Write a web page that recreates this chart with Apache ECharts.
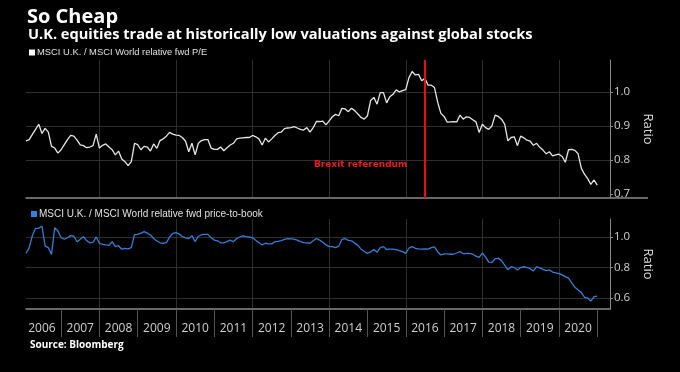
<!DOCTYPE html>
<html><head><meta charset="utf-8">
<script src="https://cdn.jsdelivr.net/npm/echarts@6/dist/echarts.min.js"></script>
<style>html,body{margin:0;padding:0;background:#000}#c{width:680px;height:372px}</style>
</head><body><div id="c"></div>
<script>
// Axis spans Feb 2006 .. May 2021 (monthly); data Feb 2006 .. Jan 2021
const startYear = 2006, startMonth = 2, axisMonths = 184;
const yearLabels = ['2006','2007','2008','2009','2010','2011','2012','2013','2014','2015','2016','2017','2018','2019','2020'];
const peTicks = [0.7, 0.8, 0.9, 1.0];
const peGrid = [0.8, 0.9, 1.0];
const pbTicks = [0.6, 0.8, 1.0];
const brexitMonth = '2016-07';
const peRatio = [
0.856,0.86,0.875,0.89,0.905,0.878,0.893,0.882,0.84,0.835,
0.82,0.83,0.845,0.86,0.872,0.87,0.858,0.844,0.842,0.836,
0.838,0.842,0.876,0.835,0.843,0.847,0.838,0.83,0.815,0.826,
0.803,0.795,0.783,0.795,0.849,0.845,0.83,0.84,0.838,0.826,
0.847,0.834,0.857,0.862,0.87,0.881,0.876,0.873,0.872,0.866,
0.855,0.824,0.849,0.815,0.849,0.857,0.86,0.86,0.835,0.831,
0.831,0.838,0.827,0.836,0.844,0.849,0.862,0.864,0.865,0.866,
0.866,0.872,0.868,0.862,0.844,0.864,0.853,0.862,0.872,0.88,
0.882,0.892,0.894,0.895,0.898,0.894,0.89,0.888,0.895,0.882,
0.895,0.913,0.913,0.914,0.903,0.915,0.927,0.934,0.93,0.952,
0.95,0.942,0.952,0.945,0.935,0.925,0.92,0.93,0.975,0.984,
0.964,0.998,0.998,0.968,0.986,0.993,1.006,1.0,1.004,1.007,
1.042,1.06,1.05,1.052,1.033,1.04,1.02,1.02,1.013,0.97,
0.937,0.928,0.911,0.912,0.913,0.912,0.932,0.92,0.927,0.925,
0.918,0.912,0.881,0.905,0.895,0.89,0.9,0.932,0.928,0.92,
0.905,0.856,0.866,0.868,0.842,0.87,0.865,0.858,0.855,0.843,
0.849,0.837,0.829,0.818,0.824,0.812,0.815,0.817,0.81,0.793,
0.83,0.831,0.828,0.818,0.776,0.758,0.745,0.728,0.741,0.726];
const pbRatio = [
0.893,0.93,1.01,1.057,1.057,1.072,0.94,0.93,0.886,1.061,
1.04,0.995,0.985,0.995,1.009,1.005,0.969,0.985,1.002,0.976,
0.962,0.965,1.0,0.959,0.952,0.948,0.945,0.969,0.937,0.943,
0.92,0.926,0.922,0.93,1.015,1.017,1.025,1.035,1.025,1.013,
0.99,0.974,0.962,0.959,0.963,1.0,1.024,1.028,1.02,1.002,
0.995,0.99,1.009,0.969,1.005,1.015,1.017,1.017,0.995,0.98,
0.975,0.962,0.962,0.97,0.98,0.969,0.99,1.0,1.007,1.003,
1.0,0.995,0.978,0.962,0.948,0.959,0.955,0.955,0.969,0.972,
0.976,0.985,0.99,0.988,0.986,0.98,0.97,0.963,0.962,0.959,
0.975,0.99,0.98,0.965,0.948,0.937,0.937,0.93,0.94,0.985,
0.99,0.978,0.975,0.96,0.945,0.92,0.905,0.893,0.902,0.918,
0.9,0.93,0.937,0.918,0.92,0.92,0.917,0.91,0.904,0.893,
0.928,0.937,0.926,0.922,0.92,0.922,0.92,0.93,0.935,0.902,
0.882,0.89,0.89,0.887,0.887,0.895,0.904,0.89,0.893,0.893,
0.887,0.875,0.866,0.895,0.87,0.835,0.833,0.858,0.86,0.845,
0.815,0.785,0.806,0.8,0.784,0.8,0.805,0.8,0.792,0.778,
0.805,0.797,0.788,0.78,0.784,0.77,0.765,0.76,0.752,0.74,
0.73,0.7,0.67,0.652,0.637,0.605,0.6,0.58,0.609,0.613];

const months = [];
for (let i = 0; i < axisMonths; i++) {
  const m = startMonth - 1 + i;
  months.push((startYear + Math.floor(m / 12)) + '-' + String(m % 12 + 1).padStart(2, '0'));
}
const isJan = v => v.endsWith('-01');
const isEvenJan = v => isJan(v) && (+v.slice(0, 4)) % 2 === 0;
const isMid = v => v.endsWith('-07') && yearLabels.includes(v.slice(0, 4));

const FONT = 'Open Sans';
const gridCol = '#2e2e2e', axisCol = '#8a8a8a', txtCol = '#d0d0d0';
const L = 26, R = 70;

const chart = echarts.init(document.getElementById('c'));
chart.setOption({
  backgroundColor: '#000',
  animation: false,
  textStyle: { fontFamily: FONT },
  title: [
    { text: 'So Cheap', left: 22, top: 2, textStyle: { color: '#fff', fontSize: 20, fontWeight: 'bold', fontFamily: FONT } },
    { text: 'U.K. equities trade at historically low valuations against global stocks', left: 23, top: 22, textStyle: { color: '#fff', fontSize: 14.6, fontWeight: 'bold', fontFamily: FONT } },
    { text: 'Source: Bloomberg', left: 25, top: 335, textStyle: { color: '#fff', fontSize: 10, fontWeight: 'bold', fontFamily: FONT } }
  ],
  legend: [
    { data: ['MSCI U.K. / MSCI World relative fwd P/E'], left: 24, top: 43, icon: 'rect', itemWidth: 6, itemHeight: 6,
      textStyle: { color: '#e0e0e0', fontSize: 9.4, fontFamily: 'Liberation Sans', padding: [0, 0, 0, -3] } },
    { data: ['MSCI U.K. / MSCI World relative fwd price-to-book'], left: 26, top: 204, icon: 'rect', itemWidth: 6, itemHeight: 6,
      textStyle: { color: '#e0e0e0', fontSize: 10, fontFamily: 'Liberation Sans', padding: [0, 0, 0, -3] } }
  ],
  grid: [
    { left: L, right: R, top: 60, height: 138 },
    { left: L, right: R, top: 219, height: 90 }
  ],
  xAxis: [
    { gridIndex: 0, type: 'category', data: months, boundaryGap: false,
      axisLine: { show: true, lineStyle: { color: axisCol, width: 1.5 } },
      axisTick: { show: false }, axisLabel: { show: false },
      splitLine: { show: true, interval: (i, v) => isEvenJan(v), lineStyle: { color: gridCol, width: 1 } } },
    { gridIndex: 1, type: 'category', data: months, boundaryGap: false,
      axisLine: { show: true, lineStyle: { color: axisCol, width: 1.5 } },
      axisTick: { show: true, interval: (i, v) => isJan(v), length: 28, lineStyle: { color: '#555' } },
      axisLabel: { show: true, interval: (i, v) => isMid(v), formatter: v => v.slice(0, 4), color: txtCol, fontSize: 12, margin: 14, fontFamily: FONT },
      splitLine: { show: true, interval: (i, v) => isEvenJan(v), lineStyle: { color: gridCol, width: 1 } } }
  ],
  yAxis: [
    { gridIndex: 0, type: 'value', position: 'right', min: 0.688, max: 1.094,
      axisLine: { show: true, lineStyle: { color: axisCol } },
      axisTick: { show: true, length: 3, customValues: peTicks, lineStyle: { color: axisCol } },
      axisLabel: { customValues: peTicks, formatter: v => v.toFixed(1), color: txtCol, fontSize: 11.5, margin: 4, fontFamily: FONT },
      splitLine: { show: false },
      name: 'Ratio', nameLocation: 'middle', nameRotate: -90, nameGap: 27,
      nameTextStyle: { color: '#ddd', fontSize: 13, fontFamily: FONT } },
    { gridIndex: 1, type: 'value', position: 'right', min: 0.528, max: 1.118,
      axisLine: { show: true, lineStyle: { color: axisCol } },
      axisTick: { show: true, length: 3, customValues: pbTicks, lineStyle: { color: axisCol } },
      axisLabel: { customValues: pbTicks, formatter: v => v.toFixed(1), color: txtCol, fontSize: 11.5, margin: 4, fontFamily: FONT },
      splitLine: { show: true, lineStyle: { color: gridCol } },
      name: 'Ratio', nameLocation: 'middle', nameRotate: -90, nameGap: 27,
      nameTextStyle: { color: '#ddd', fontSize: 13, fontFamily: FONT } },
    { gridIndex: 0, type: 'value', position: 'right', min: 0.688, max: 1.094,
      axisLine: { show: false }, axisTick: { show: false, customValues: peGrid }, axisLabel: { show: false },
      splitLine: { show: true, lineStyle: { color: gridCol } } }
  ],
  series: [
    { name: 'MSCI U.K. / MSCI World relative fwd P/E', type: 'line', xAxisIndex: 0, yAxisIndex: 0, data: peRatio,
      symbol: 'none', itemStyle: { color: '#ffffff' }, lineStyle: { color: '#e6e6e6', width: 1.3 },
      markLine: { symbol: 'none', silent: true, animation: false, label: { show: false },
        lineStyle: { color: '#e3101c', width: 2, type: 'solid' }, data: [{ xAxis: brexitMonth }] },
      markPoint: { silent: true, symbol: 'circle', symbolSize: 1, itemStyle: { color: 'rgba(0,0,0,0)' },
        data: [{ coord: [brexitMonth, 0.785], label: { show: true, formatter: 'Brexit referendum', position: 'left', distance: 17,
          color: '#ee1822', fontWeight: 'bold', fontSize: 9, fontFamily: 'DejaVu Sans' } }] } },
    { name: 'MSCI U.K. / MSCI World relative fwd price-to-book', type: 'line', xAxisIndex: 1, yAxisIndex: 1, data: pbRatio,
      symbol: 'none', itemStyle: { color: '#2f80e0' }, lineStyle: { color: '#2f7fd9', width: 1.3 } }
  ],
  graphic: [
    { type: 'line', shape: { x1: 610, y1: 198, x2: 648, y2: 198 }, style: { stroke: axisCol, lineWidth: 1.5 } }
  ]
});
</script></body></html>
